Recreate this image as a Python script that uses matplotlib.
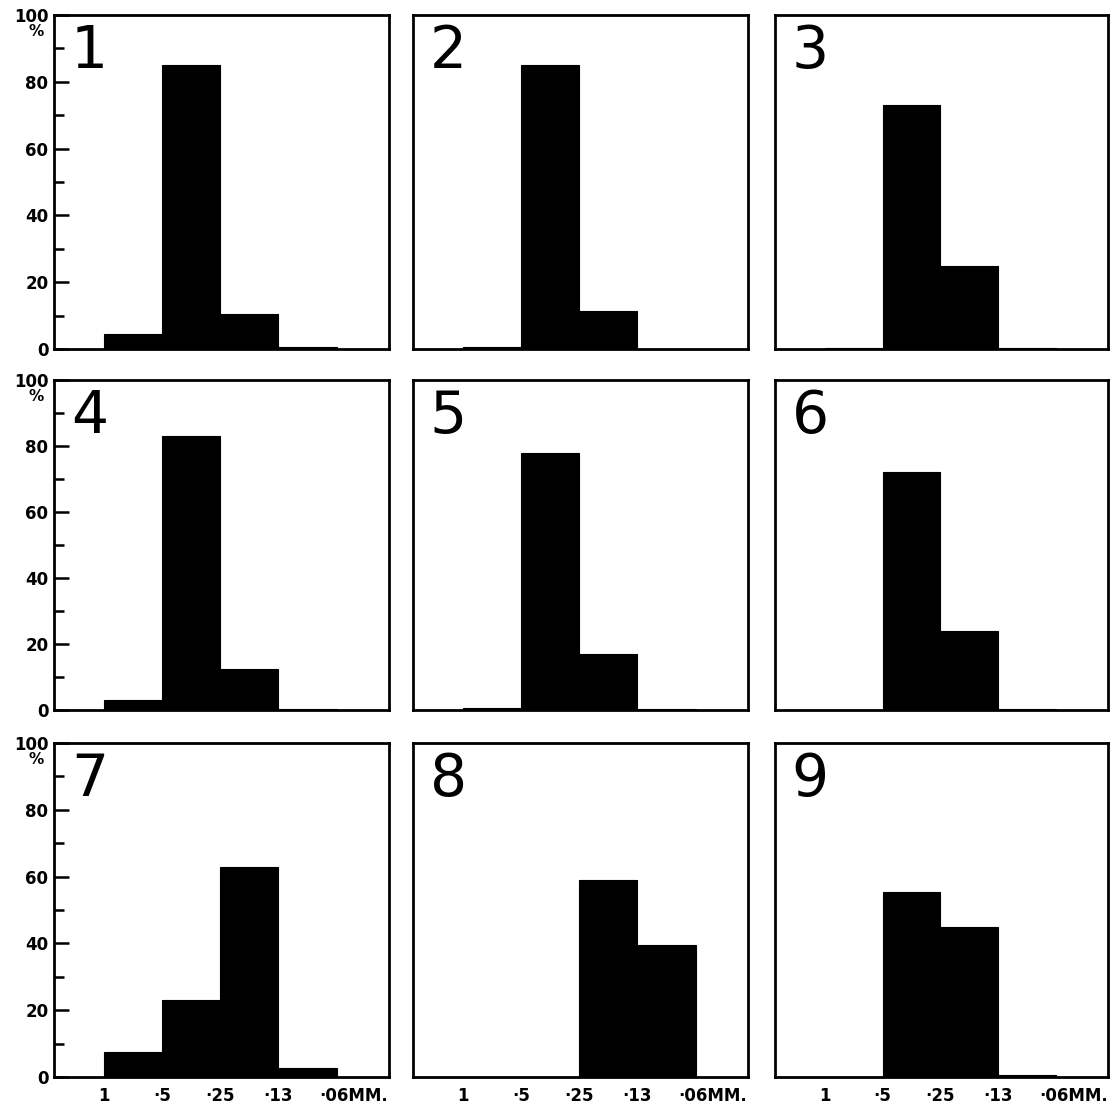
import matplotlib.pyplot as plt
import matplotlib.transforms as mtransforms

# Porcentaje por clase de tamaño (mm): 1-·5, ·5-·25, ·25-·13, ·13-·06
size_labels = ['1', '·5', '·25', '·13', '·06MM.']
panel_names = ['1', '2', '3', '4', '5', '6', '7', '8', '9']

p1 = [4.5, 85, 10.5, 0.5]
p2 = [0.5, 85, 11.5, 0]
p3 = [0.3, 73, 25, 0.3]
p4 = [3, 83, 12.5, 0.3]
p5 = [0.5, 78, 17, 0.2]
p6 = [0, 72, 24, 0.3]
p7 = [7.5, 23, 63, 2.7]
p8 = [0, 0, 59, 39.5]
p9 = [0, 55.5, 45, 0.5]
panels = [p1, p2, p3, p4, p5, p6, p7, p8, p9]

W, H = 1117, 1106
cols = [(54, 389), (413, 748), (775, 1108)]
rows = [(15, 349), (380, 710), (743, 1077)]

fig = plt.figure(figsize=(W / 100, H / 100), dpi=100)
fig.patch.set_facecolor('white')

for i, vals in enumerate(panels):
    r, c = divmod(i, 3)
    x0, x1 = cols[c]
    y0, y1 = rows[r]
    ax = fig.add_axes([x0 / W, 1 - y1 / H, (x1 - x0) / W, (y1 - y0) / H])
    ax.bar(range(len(vals)), vals, width=1.0, align='edge', color='black',
           edgecolor='black', linewidth=0.8)
    ax.set_xlim(-0.86, 4.9)
    ax.set_ylim(0, 100)
    for s in ax.spines.values():
        s.set_linewidth(2.0)
        s.set_color('black')

    # número del panel
    ax.text(0.05, 0.975, panel_names[i], transform=ax.transAxes, fontsize=42,
            va='top', ha='left', color='black', fontfamily='DejaVu Sans')

    if c == 0:
        ax.set_yticks([0, 20, 40, 60, 80, 100])
        ax.set_yticklabels(['0', '20', '40', '60', '80', '100'],
                           fontsize=12, fontweight='bold')
        ax.set_yticks([10, 30, 50, 70, 90], minor=True)
        ax.tick_params(axis='y', which='major', direction='in', length=11,
                       width=1.8, pad=4)
        ax.tick_params(axis='y', which='minor', direction='in', length=7,
                       width=1.8)
        ax.text(-0.03, 95, '%', transform=ax.get_yaxis_transform(),
                fontsize=11, fontweight='bold', ha='right', va='center')
    else:
        ax.set_yticks([])

    if r == 2:
        ax.set_xticks(range(len(size_labels)))
        ax.set_xticklabels(size_labels, fontsize=12, fontweight='bold')
        ax.tick_params(axis='x', length=0, pad=7)
        last = ax.get_xticklabels()[-1]
        last.set_horizontalalignment('left')
        last.set_transform(last.get_transform() +
                           mtransforms.ScaledTranslation(-0.17, 0, fig.dpi_scale_trans))
    else:
        ax.set_xticks([])

fig.savefig('out.png', dpi=100)
